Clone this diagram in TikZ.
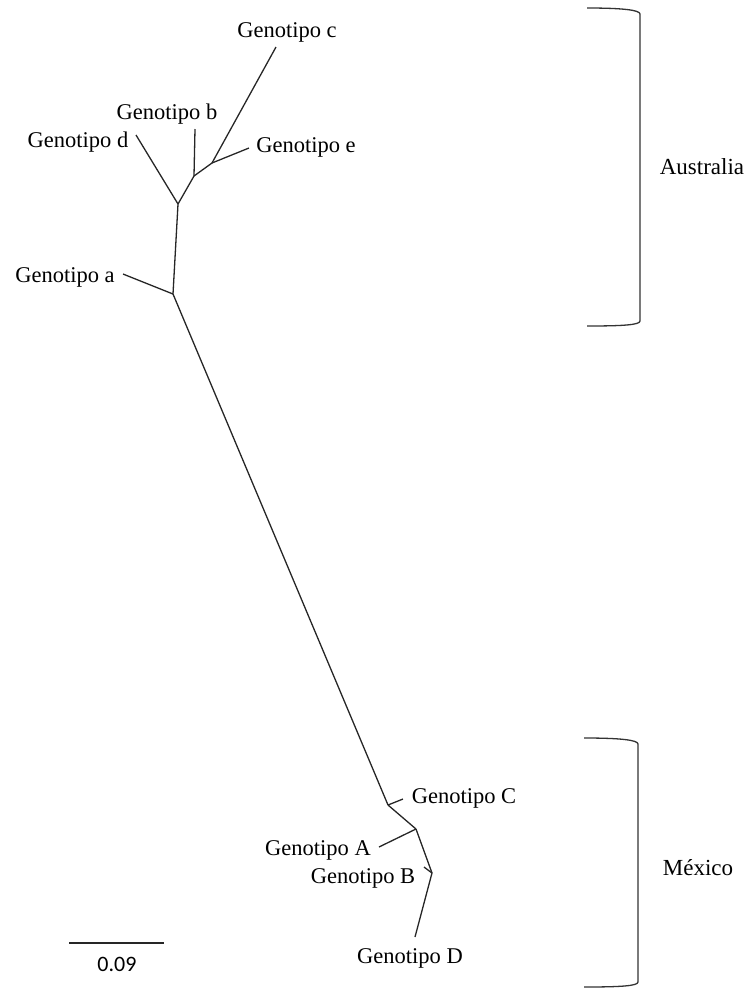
\documentclass[tikz,border=0pt]{standalone}
\usepackage{fontspec}
\setmainfont{Liberation Serif}
\newfontfamily\scalefont{Carlito}
\begin{document}
\begin{tikzpicture}[x=1pt,y=-1pt,
  branch/.style={draw=black!85,line width=1.3pt},
  brack/.style={draw=black!80,line width=1.3pt},
  lab/.style={inner sep=0pt,font=\fontsize{22.5}{27}\selectfont},
  grp/.style={inner sep=0pt,font=\fontsize{23}{27}\selectfont}]
\useasboundingbox (0,0) rectangle (748,989);
% internal nodes and tips
\coordinate (n1) at (173,294);
\coordinate (n2) at (178,204);
\coordinate (n3) at (194,176);
\coordinate (n4) at (212,163);
\coordinate (tc) at (276,47);
\coordinate (te) at (249,148);
\coordinate (tb) at (195,129);
\coordinate (td) at (136,135);
\coordinate (ta) at (123,274);
\coordinate (m1) at (388,805);
\coordinate (tC) at (403,799);
\coordinate (m2) at (416,829);
\coordinate (tA) at (379,847);
\coordinate (m3) at (432,873);
\coordinate (tB) at (424,867);
\coordinate (tD) at (415,937);
% branches
\draw[branch] (n1) -- (n2);
\draw[branch] (n2) -- (n3);
\draw[branch] (n3) -- (n4);
\draw[branch] (n4) -- (tc);
\draw[branch] (n4) -- (te);
\draw[branch] (n3) -- (tb);
\draw[branch] (n2) -- (td);
\draw[branch] (n1) -- (ta);
\draw[branch] (n1) -- (m1);
\draw[branch] (m1) -- (tC);
\draw[branch] (m1) -- (m2);
\draw[branch] (m2) -- (tA);
\draw[branch] (m2) -- (m3);
\draw[branch] (m3) -- (tB);
\draw[branch] (m3) -- (tD);
% labels
\node[lab] (lc) at (287,32) {Genotipo c};
\node[lab] (lb) at (167,114) {Genotipo b};
\node[lab] (ld) at (78,142) {Genotipo d};
\node[lab] (le) at (306,147) {Genotipo e};
\node[lab] (la) at (65,277) {Genotipo a};
\node[lab] (lC) at (464,798) {Genotipo C};
\node[lab] (lA) at (318,850) {Genotipo A};
\node[lab] (lB) at (363,878) {Genotipo B};
\node[lab] (lD) at (410,958) {Genotipo D};
% group brackets
\coordinate (au1) at (587,8);
\coordinate (au2) at (640,14);
\coordinate (au3) at (640,321);
\coordinate (au4) at (587,326);
\draw[brack] (au1) .. controls (622,8) and (640,10) .. (au2) -- (au3) .. controls (640,325) and (622,326) .. (au4);
\node[grp] (aus) at (702,167) {Australia};
\coordinate (mx1) at (584,738);
\coordinate (mx2) at (638,744);
\coordinate (mx3) at (638,982);
\coordinate (mx4) at (584,987);
\draw[brack] (mx1) .. controls (620,738) and (638,740) .. (mx2) -- (mx3) .. controls (638,986) and (620,987) .. (mx4);
\node[grp] (mex) at (698,868) {México};
% scale bar
\coordinate (sb1) at (69,943);
\coordinate (sb2) at (164,943);
\draw[branch] (sb1) -- (sb2);
\node[inner sep=0pt,font=\scalefont\fontsize{22}{26}\selectfont] (sbl) at (117,964) {0.09};
\end{tikzpicture}
\end{document}
